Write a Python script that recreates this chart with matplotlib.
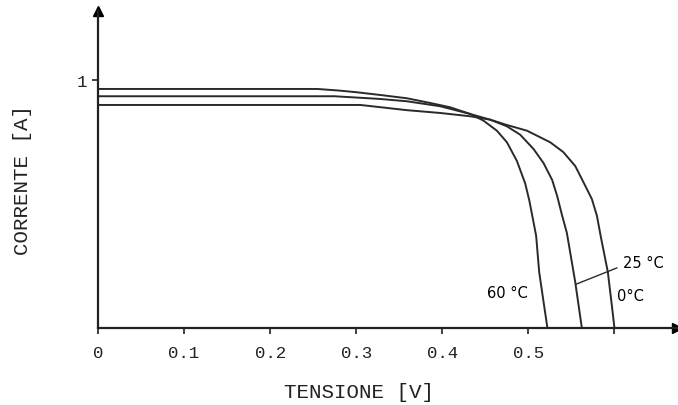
import matplotlib.pyplot as plt

# curves (V in volts, I in amperes)
v_60 = [0, 0.255, 0.2814, 0.3008, 0.3279, 0.3590, 0.3860, 0.4093, 0.4326, 0.4481,
        0.4636, 0.4753, 0.4869, 0.4965, 0.5012, 0.5050, 0.5093, 0.5128, 0.5186, 0.5224]
i_60 = [0.9637, 0.9637, 0.9569, 0.9504, 0.9395, 0.9262, 0.9073, 0.8899, 0.8629, 0.8359,
        0.7956, 0.7488, 0.6734, 0.5835, 0.5161, 0.4488, 0.3710, 0.2258, 0.0887, 0.0]

v_25 = [0, 0.275, 0.3279, 0.3590, 0.3977, 0.4326, 0.4558, 0.4752, 0.4907, 0.5062,
        0.5178, 0.5279, 0.5337, 0.5392, 0.5450, 0.5547, 0.5624]
i_25 = [0.9343, 0.9343, 0.9234, 0.9141, 0.8940, 0.8629, 0.8399, 0.8133, 0.7794, 0.7218,
        0.6653, 0.5968, 0.5323, 0.4569, 0.3831, 0.1855, 0.0]

v_0 = [0, 0.305, 0.3590, 0.3977, 0.4326, 0.4558, 0.4752, 0.4985, 0.5256, 0.5407,
       0.5547, 0.5643, 0.5740, 0.5799, 0.5845, 0.5926, 0.5973, 0.6003]
i_0 = [0.8992, 0.8992, 0.8782, 0.8669, 0.8536, 0.8399, 0.8185, 0.7956, 0.7488, 0.7097,
       0.6532, 0.5875, 0.5202, 0.4528, 0.3669, 0.2258, 0.0899, 0.0]

xticks = [0, 0.1, 0.2, 0.3, 0.4, 0.5, 0.6]
xlabels = ['0', '0.1', '0.2', '0.3', '0.4', '0.5', '']

fig = plt.figure(figsize=(6.78, 4.06), dpi=100)
ax = fig.add_axes([98/678, 77/406, 579/678, 317/406])

col = '#2a2a2a'
for v, i in [(v_60, i_60), (v_25, i_25), (v_0, i_0)]:
    ax.plot(v, i, color=col, lw=1.4, solid_joinstyle='round')

ax.set_xlim(0, 0.673)
ax.set_ylim(0, 1.278)

for s in ['top', 'right']:
    ax.spines[s].set_visible(False)
for s in ['left', 'bottom']:
    ax.spines[s].set_linewidth(1.6)
    ax.spines[s].set_color('#222222')

# arrow heads on the axes
ax.plot(1, 0, '>', color='black', ms=7, transform=ax.transAxes, clip_on=False)
ax.plot(0, 1, '^', color='black', ms=7, transform=ax.transAxes, clip_on=False)

ax.set_xticks(xticks)
ax.set_xticklabels(xlabels, family='Liberation Mono', fontsize=12.5, color='#222222')
ax.set_yticks([1])
ax.set_yticklabels(['1'], family='Liberation Mono', fontsize=12.5, color='#222222')
ax.tick_params(length=4, width=1.2, color='#222222', pad=8)
ax.tick_params(axis='y', pad=4)

# label line and temperatures
ax.plot([0.556, 0.603], [0.177, 0.242], color=col, lw=1.0)
ax.text(0.610, 0.266, '25 °C', fontsize=10.5, family='DejaVu Sans', va='center', ha='left')
ax.text(0.603, 0.133, '0°C', fontsize=10.5, family='DejaVu Sans', va='center', ha='left')
ax.text(0.452, 0.145, '60 °C', fontsize=10.5, family='DejaVu Sans', va='center', ha='left')

fig.text(359/678, 1 - 393/406, 'TENSIONE [V]', family='Liberation Mono', fontsize=15,
         ha='center', va='center', color='#222222')
fig.text(23/678, 1 - 180/406, 'CORRENTE [A]', family='Liberation Mono', fontsize=15,
         ha='center', va='center', rotation=90, color='#222222')

fig.savefig('out.png', dpi=100)
